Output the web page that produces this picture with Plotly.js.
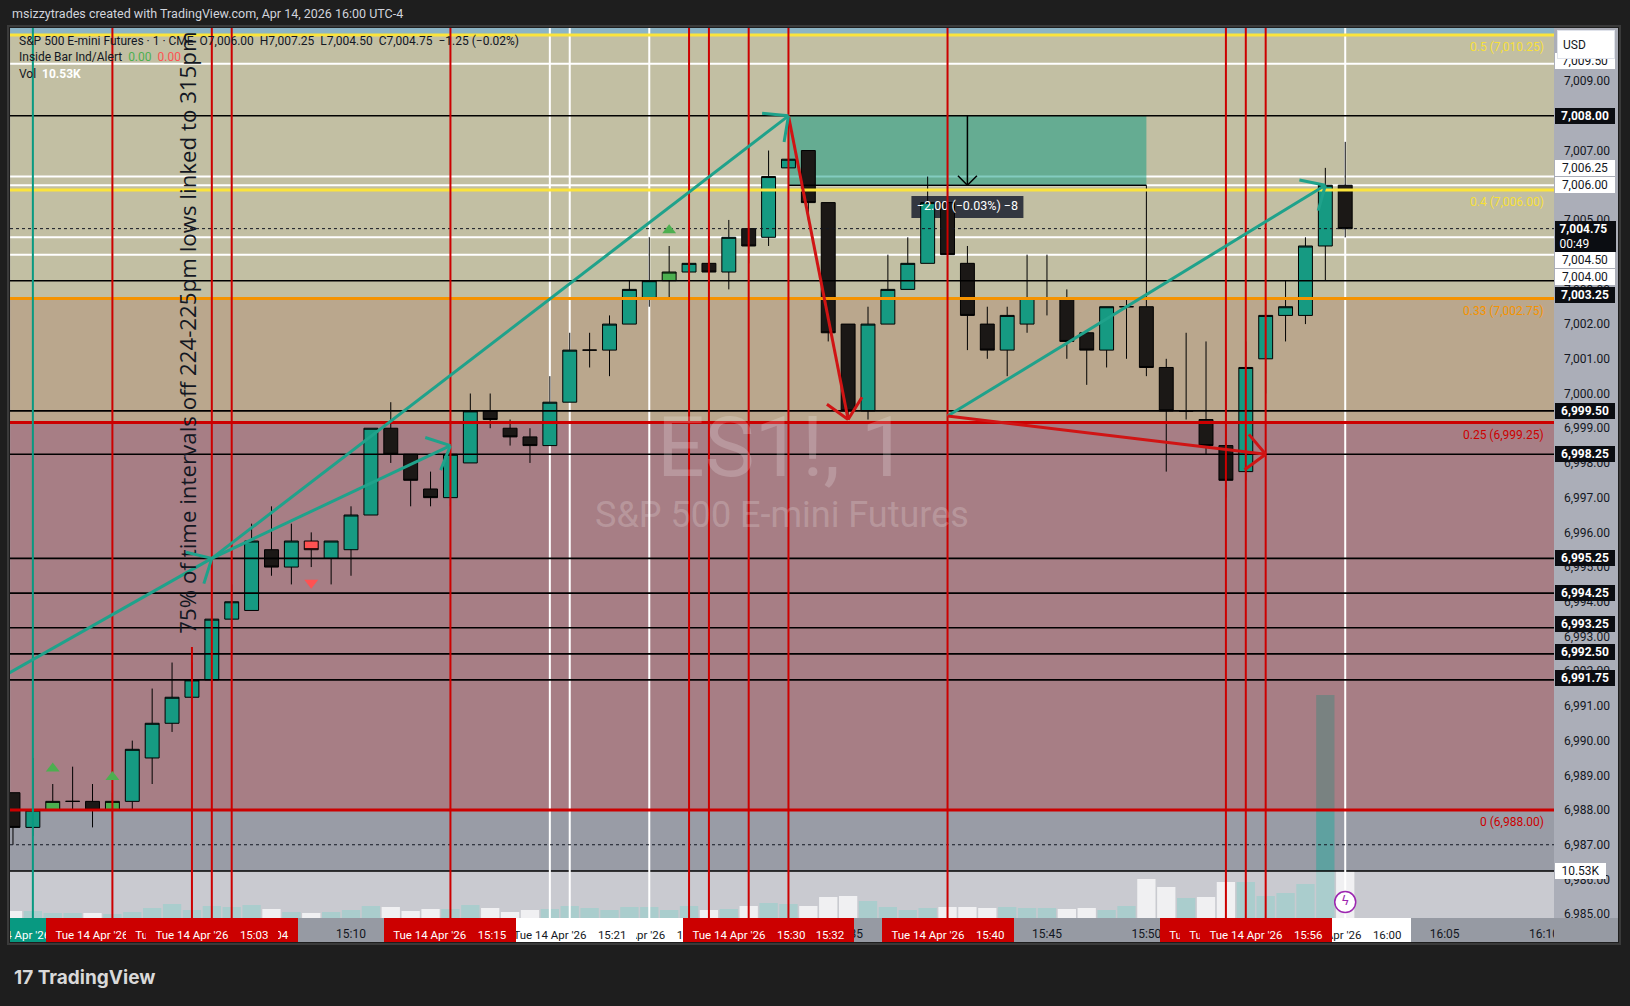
<!DOCTYPE html>
<html><head><meta charset="utf-8">
<script src="https://cdn.plot.ly/plotly-3.0.1.min.js"></script>
<style>html,body{margin:0;padding:0;background:#1e1e1e;overflow:hidden}#chart{width:1630px;height:1006px}</style>
</head><body><div id="chart"></div><script>
// ---------------- DATA ----------------
const day = '2026-04-14 ';
const times = ['14:53','14:54','14:55','14:56','14:57','14:58','14:59','15:00','15:01','15:02','15:03','15:04','15:05','15:06','15:07','15:08','15:09','15:10','15:11','15:12','15:13','15:14','15:15','15:16','15:17','15:18','15:19','15:20','15:21','15:22','15:23','15:24','15:25','15:26','15:27','15:28','15:29','15:30','15:31','15:32','15:33','15:34','15:35','15:36','15:37','15:38','15:39','15:40','15:41','15:42','15:43','15:44','15:45','15:46','15:47','15:48','15:49','15:50','15:51','15:52','15:53','15:54','15:55','15:56','15:57','15:58','15:59','16:00'];
const open = [6988.5,6987.5,6988.0,6988.25,6988.25,6988.0,6988.25,6989.5,6990.5,6991.25,
  6991.75,6993.5,6993.75,6995.5,6995.0,6995.75,6995.25,6995.5,6996.5,6999.0,
  6998.25,6997.25,6997.0,6998.0,6999.5,6999.0,6998.75,6998.5,6999.75,7001.25,
  7001.25,7002.0,7002.75,7003.25,7003.5,7003.75,7003.5,7004.75,7004.5,7006.5,
  7007.0,7005.5,7002.0,6999.5,7002.0,7003.0,7003.75,7005.5,7003.75,7002.0,
  7001.25,7002.0,7002.75,7002.75,7001.75,7001.25,7002.5,7002.5,7000.75,6999.5,
  6999.25,6998.5,6997.75,7001.0,7002.25,7002.25,7004.25,7006.0];
const high = [6988.5,6989.5,6988.75,6989.25,6988.75,6988.5,6990.0,6991.5,6992.25,6992.25,
  6993.75,6994.5,6996.25,6996.75,6996.25,6996.0,6995.75,6996.75,6999.0,6999.75,
  6998.25,6997.75,6998.5,7000.0,7000.0,6999.25,6999.0,7000.5,7001.75,7001.75,
  7002.25,7003.25,7004.5,7004.25,7004.25,7004.25,7005.0,7005.0,7007.0,7008.0,
  7007.0,7005.5,7002.0,7002.5,7004.0,7004.5,7006.25,7006.0,7004.25,7002.5,
  7002.5,7004.0,7004.0,7003.0,7001.75,7002.5,7002.75,7006.0,7001.0,7001.75,
  7001.5,7001.25,7001.5,7002.75,7003.25,7004.5,7006.5,7007.25];
const low = [6987.0,6987.25,6988.0,6988.0,6987.5,6987.75,6988.0,6988.75,6990.25,6991.25,
  6991.75,6992.5,6993.75,6994.75,6994.5,6995.0,6994.5,6994.75,6996.5,6998.0,
  6996.75,6996.75,6996.75,6998.0,6999.0,6998.5,6998.0,6998.5,6999.75,7000.75,
  7000.5,7002.0,7002.5,7002.75,7003.0,7003.0,7003.0,7003.75,7004.25,7006.5,
  7005.0,7001.5,6999.25,6999.25,7002.0,7003.0,7003.75,7003.25,7001.25,7001.0,
  7000.5,7001.75,7002.25,7001.0,7000.25,7000.75,7001.0,7000.5,6997.75,6999.25,
  6998.25,6997.0,6997.5,7000.0,7001.5,7002.0,7003.25,7004.5];
const close = [6987.5,6988.0,6988.25,6988.25,6988.0,6988.25,6989.75,6990.5,6991.25,6991.75,
  6993.5,6994.0,6995.75,6995.0,6995.75,6995.5,6995.75,6996.5,6999.0,6998.25,
  6997.5,6997.0,6998.25,6999.5,6999.25,6998.75,6998.5,6999.75,7001.25,7001.25,
  7002.0,7003.0,7003.25,7003.5,7003.75,7003.5,7004.5,7004.25,7006.25,7006.75,
  7005.5,7001.75,6999.5,7002.0,7003.0,7003.75,7005.5,7004.0,7002.25,7001.25,
  7002.25,7002.75,7002.75,7001.5,7001.25,7002.5,7002.5,7000.75,6999.5,6999.5,
  6998.5,6997.5,7000.75,7002.25,7002.5,7004.25,7006.0,7004.75];
const volumeK = [1.57,1.57,1.12,1.12,1.12,0.90,1.34,2.24,3.14,1.79,
  2.69,2.46,2.91,2.02,1.34,1.12,1.34,1.79,2.69,2.46,
  1.57,2.02,2.02,2.91,2.24,1.34,1.79,2.02,2.69,2.24,
  1.79,2.46,2.46,1.79,2.69,1.79,2.02,2.69,3.36,3.14,
  2.69,4.70,4.93,3.81,2.46,1.79,2.24,2.46,2.46,2.24,
  2.46,2.24,2.24,2.02,2.24,1.79,2.69,8.74,6.95,4.48,
  4.70,8.07,8.07,4.93,5.60,7.62,49.97,10.53];
const insideUpTimes = ['14:55','14:58','15:26'];
const insideDownTimes = ['15:08'];
const tickTimes = ['14:55','15:00','15:05','15:10','15:15','15:20','15:25','15:30','15:35','15:40','15:45','15:50','15:55','16:00','16:05','16:10'];

const fibBase = 6988.0, fibRange = 44.65;
const fibRatios = [0, 0.25, 0.33, 0.4, 0.5];
const fibLabels = ['0 (6,988.00)','0.25 (6,999.25)','0.33 (7,002.75)','0.4 (7,006.00)','0.5 (7,010.25)'];

const blackLevels = [7008.00, 7003.25, 6999.50, 6998.25, 6995.25, 6994.25, 6993.25, 6992.50, 6991.75];
const whiteLevels = [7009.50, 7006.25, 7006.00, 7004.50, 7004.00];
const dottedLevels = [7004.75, 6987.00];

const redTimes = ['14:58','15:03','15:04','15:15','15:27','15:28','15:30','15:32','15:40','15:54','15:55','15:56'];
const redPartial = {t:'15:02', top:6992.7};
const whiteTimes = ['15:20','15:21','15:25','16:00'];
const tealTimes = ['14:54'];

const arrows = [
  {from:['14:52:30',6991.85], to:['15:03',6995.25], c:'teal'},
  {from:['15:03',6995.25], to:['15:32',7008.0], c:'teal'},
  {from:['15:03',6995.25], to:['15:15',6998.5], c:'teal'},
  {from:['15:40',6999.35], to:['15:59',7006.0], c:'teal'},
  {from:['15:32',7008.0], to:['15:35',6999.25], c:'red'},
  {from:['15:40',6999.35], to:['15:56',6998.25], c:'red'}
];
const measure = {t0:'15:32', t1:'15:50', top:7008.0, bottom:7006.0, mid:'15:41', labelPrice:7005.37};

const timeTags = [['14:54','teal'],['14:58','red'],['15:04','red'],['15:02','red'],['15:03','red'],
  ['15:27','red'],['15:28','red'],['15:25','white'],['15:20','white'],['15:21','white'],['15:15','red'],
  ['15:32','red'],['15:30','red'],['15:40','red'],['16:00','white'],['15:54','red'],['15:55','red'],['15:56','red']];

// ---------------- STYLE / GEOMETRY ----------------
const F = "Roboto, 'Liberation Sans', Arial, sans-serif";
const W = 1630, H = 1006;
const M = {l:10, r:76, t:28, b:88};
const plotW = W - M.l - M.r, plotH = H - M.t - M.b;
const xRangeT = ['14:52:51','16:10:30'];
const yRange = [6984.89, 7010.53];
const volRange = [0, 199.4];
const T = s => day + (s.length === 5 ? s + ':00' : s);
const minutesOf = s => { const p = s.split(':').map(Number); return p[0]*60 + p[1] + (p[2]||0)/60; };
const toT = m => { const s = Math.round(m*60); const h=Math.floor(s/3600), mm=Math.floor((s%3600)/60), ss=s%60;
  return day+String(h).padStart(2,'0')+':'+String(mm).padStart(2,'0')+':'+String(ss).padStart(2,'0'); };
const pxPerMin = plotW / (minutesOf(xRangeT[1]) - minutesOf(xRangeT[0]));
const pxPerPt = plotH / (yRange[1] - yRange[0]);
const X0 = T(xRangeT[0]), X1 = T(xRangeT[1]);
const XMID = toT((minutesOf(xRangeT[0]) + minutesOf(xRangeT[1]))/2);
const SPAN_MS = (minutesOf(xRangeT[1]) - minutesOf(xRangeT[0]))*60000;
const pyPaper = py => (H - M.b - py) / plotH;
const C = {teal:'#1fa28b', red:'#d01414', candleUp:'#169a82', candleDn:'#1b1816',
  volUp:'rgba(38,166,154,0.5)', volDn:'#e2e3e6', bg:'#999ca6'};
const fibColors = ['#cc0000','#cc0000','#f59300','#fbe43c','#fbe43c'];
const fibPrices = fibRatios.map(r => fibBase + r*fibRange);
const zoneColors = ['rgba(227,11,6,0.2)','#baa78d','#c2bfa3','#c2bfa3'];

const traces = [];
const idx = t => times.indexOf(t);
const lastI = times.length - 1;
const lastVol = volumeK[lastI];

// volume (subplot xy, lowest)
traces.push({type:'bar', x:times.map(T), y:volumeK, xaxis:'x', yaxis:'y', width:0.92*60000,
  marker:{color:times.map((_,i)=> close[i]>=open[i] ? C.volUp : C.volDn), line:{width:0}}, hoverinfo:'skip'});
traces.push({type:'scatter', mode:'lines', x:[X0,X1,X1,X0,X0], y:[0,0,lastVol,lastVol,0], fill:'toself',
  fillcolor:'rgba(255,255,255,0.47)', line:{width:0}, xaxis:'x', yaxis:'y', hoverinfo:'skip'});
traces.push({type:'scatter', mode:'lines', x:[X0,X1], y:[lastVol,lastVol], line:{color:'#000',width:1.5}, xaxis:'x', yaxis:'y', hoverinfo:'skip'});

// ---- price subplot: bar-layer items (below candles) ----
function rectBars(items){
  return {type:'bar', x:items.map(r=>r.xc), base:items.map(r=>r.y0), y:items.map(r=>r.y1-r.y0), width:items.map(r=>r.wMs),
    marker:{color:items.map(r=>r.color), line:{width:0}}, xaxis:'x', yaxis:'y2', hoverinfo:'skip'};
}
const zoneItems = [];
for(let i=0;i<zoneColors.length;i++) zoneItems.push({xc:XMID,wMs:SPAN_MS,y0:fibPrices[i],y1:fibPrices[i+1],color:zoneColors[i]});
zoneItems.push({xc:XMID,wMs:SPAN_MS,y0:fibPrices[4],y1:yRange[1],color:'#8cb4c5'});
traces.push(rectBars(zoneItems));
const hPt = 2/pxPerPt, wMs = 2/pxPerMin*60000;
traces.push(rectBars(whiteLevels.map(v=>({xc:XMID,wMs:SPAN_MS,y0:v-hPt/2,y1:v+hPt/2,color:'#ffffff'}))));
traces.push(rectBars(whiteTimes.map(t=>({xc:T(t),wMs:wMs,y0:yRange[0],y1:yRange[1],color:'#ffffff'}))));
const mMid = (minutesOf(measure.t0)+minutesOf(measure.t1))/2;
const lblW = 112/pxPerMin, lblH = 22/pxPerPt;
traces.push(rectBars([
  {xc:toT(mMid), wMs:(minutesOf(measure.t1)-minutesOf(measure.t0))*60000, y0:measure.bottom, y1:measure.top, color:'rgba(8,153,129,0.5)'},
  {xc:T(measure.mid), wMs:lblW*60000, y0:measure.labelPrice-lblH/2, y1:measure.labelPrice+lblH/2, color:'rgba(40,44,56,0.93)'}
]));

// candles (box layer)
const isInside = times.map(t => insideUpTimes.includes(t) || insideDownTimes.includes(t));
function candle(ids, up, dn){
  return {type:'candlestick', x:ids.map(i=>T(times[i])), open:ids.map(i=>open[i]), high:ids.map(i=>high[i]), low:ids.map(i=>low[i]), close:ids.map(i=>close[i]),
    increasing:{fillcolor:up, line:{color:'#000',width:1}}, decreasing:{fillcolor:dn, line:{color:'#000',width:1}},
    whiskerwidth:0, xaxis:'x', yaxis:'y2', hoverinfo:'skip'};
}
traces.push(candle(times.map((_,i)=>i).filter(i=>!isInside[i]), C.candleUp, C.candleDn));
traces.push(candle(times.map((_,i)=>i).filter(i=>isInside[i]), '#4caf50', '#ff5252'));

// ---- scatter layer (above candles) ----
function hl(levels,color,width,dash){ const x=[],y=[]; levels.forEach(v=>{x.push(X0,X1,null);y.push(v,v,null);}); return {type:'scatter',mode:'lines',x,y,line:{color,width,dash:dash||'solid'},xaxis:'x',yaxis:'y2',hoverinfo:'skip'}; }
function vl(ts,color,width,bot,top){ const x=[],y=[]; ts.forEach(t=>{x.push(T(t),T(t),null);y.push(bot,top,null);}); return {type:'scatter',mode:'lines',x,y,line:{color,width},xaxis:'x',yaxis:'y2',hoverinfo:'skip'}; }
(function(){
  const d = measure.bottom - measure.top;
  const txt = '\u2212' + Math.abs(d).toFixed(2) + ' (\u2212' + Math.abs(d/measure.top*100).toFixed(2) + '%) \u2212' + Math.abs(d/0.25);
  traces.push({type:'scatter',mode:'text',x:[T(measure.mid)],y:[measure.labelPrice],text:[txt],textposition:'middle center',textfont:{family:F,size:12.5,color:'#ffffff'},xaxis:'x',yaxis:'y2',hoverinfo:'skip'});
})();
fibPrices.forEach((p,i)=> traces.push(hl([p], fibColors[i], 3)));
traces.push(hl(blackLevels,'#000000',1.6));
traces.push(hl(dottedLevels,'#131722',1,'dot'));
traces.push({type:'scatter',mode:'lines',x:[T(measure.t0),T(measure.t1)],y:[measure.bottom,measure.bottom],line:{color:'#000',width:1.5},xaxis:'x',yaxis:'y2',hoverinfo:'skip'});
traces.push(vl(redTimes,'#cc0000',2,yRange[0],yRange[1]));
traces.push(vl([redPartial.t],'#cc0000',2,yRange[0],redPartial.top));
traces.push(vl(tealTimes,'#089981',2,yRange[0],yRange[1]));
traces.push({type:'scatter',mode:'lines',x:[T(measure.mid),T(measure.mid)],y:[measure.top,measure.bottom],line:{color:'#000',width:1.5},xaxis:'x',yaxis:'y2',hoverinfo:'skip'});
const mOff = 0.45;
traces.push({type:'scatter',mode:'markers',x:insideUpTimes.map(T),y:insideUpTimes.map(t=>high[idx(t)]+mOff),marker:{symbol:'triangle-up',size:12,color:'#4caf50'},xaxis:'x',yaxis:'y2',hoverinfo:'skip'});
traces.push({type:'scatter',mode:'markers',x:insideDownTimes.map(T),y:insideDownTimes.map(t=>low[idx(t)]-mOff),marker:{symbol:'triangle-down',size:12,color:'#ff5252'},xaxis:'x',yaxis:'y2',hoverinfo:'skip'});
arrows.forEach(a => traces.push({type:'scatter',mode:'lines',x:[T(a.from[0]),T(a.to[0])],y:[a.from[1],a.to[1]],
  line:{color:C[a.c],width:3},xaxis:'x',yaxis:'y2',hoverinfo:'skip'}));
traces.push({type:'scatter',mode:'markers+text',x:[T(times[lastI])],y:[6985.35],text:['\u03DF'],textposition:'middle center',
  textfont:{family:'DejaVu Sans',size:13,color:'#9c27b0'},marker:{symbol:'circle',size:21,color:'#ffffff',line:{color:'#9c27b0',width:1.5}},xaxis:'x',yaxis:'y2',hoverinfo:'skip'});

// ---------------- ANNOTATIONS ----------------
const ann = [];
const fmt = v => v.toLocaleString('en-US',{minimumFractionDigits:2,maximumFractionDigits:2});
ann.push({xref:'paper',yref:'paper',x:0,y:pyPaper(13),xanchor:'left',yanchor:'middle',showarrow:false,
  text:'msizzytrades created with TradingView.com, Apr 14, 2026 16:00 UTC-4',font:{family:F,size:12.5,color:'#d1d4dc'}});
const chg = close[lastI]-close[lastI-1];
const chgTxt = (chg<0?'\u2212':'+') + Math.abs(chg).toFixed(2) + ' (' + (chg<0?'\u2212':'+') + Math.abs(chg/close[lastI-1]*100).toFixed(2) + '%)';
ann.push({xref:'paper',yref:'paper',x:0,xshift:7,y:pyPaper(41),xanchor:'left',yanchor:'middle',showarrow:false,font:{family:F,size:12,color:'#131722'},
  text:'S&P 500 E-mini Futures \u00b7 1 \u00b7 CME\u00a0\u00a0O'+fmt(open[lastI])+'\u00a0\u00a0H'+fmt(high[lastI])+'\u00a0\u00a0L'+fmt(low[lastI])+'\u00a0\u00a0C'+fmt(close[lastI])+'\u00a0\u00a0'+chgTxt});
ann.push({xref:'paper',yref:'paper',x:0,xshift:7,y:pyPaper(57),xanchor:'left',yanchor:'middle',showarrow:false,font:{family:F,size:12,color:'#131722'},
  text:'Inside Bar Ind/Alert\u00a0\u00a0<span style="color:#4caf50">0.00</span>\u00a0\u00a0<span style="color:#ff5252">0.00</span>'});
ann.push({xref:'paper',yref:'paper',x:0,xshift:7,y:pyPaper(74),xanchor:'left',yanchor:'middle',showarrow:false,font:{family:F,size:12,color:'#131722'},
  text:'Vol\u00a0\u00a0<b><span style="color:#ffffff">'+lastVol.toFixed(2)+'K</span></b>'});
ann.push({xref:'paper',yref:'paper',x:0.5,y:pyPaper(447),xanchor:'center',yanchor:'middle',showarrow:false,text:'ES1!, 1',font:{family:F,size:84,color:'rgba(255,255,255,0.2)'}});
ann.push({xref:'paper',yref:'paper',x:0.5,y:pyPaper(515),xanchor:'center',yanchor:'middle',showarrow:false,text:'S&P 500 E-mini Futures',font:{family:F,size:36,color:'rgba(255,255,255,0.2)'}});
ann.push({xref:'x',yref:'y2',x:T('15:01:48'),y:7001.75,textangle:-90,showarrow:false,xanchor:'center',yanchor:'middle',
  text:'75% of time intervals off 224-225pm lows linked to 315pm',font:{family:"'Open Sans','Noto Sans',sans-serif",size:22.3,color:'#131722'}});
fibPrices.forEach((p,i)=> ann.push({xref:'paper',yref:'y2',x:1,xshift:-8,y:p,yshift:-3,xanchor:'right',yanchor:'top',showarrow:false,
  text:fibLabels[i],font:{family:F,size:12,color:fibColors[i]==='#fbe43c'?'#f7e03a':fibColors[i]}}));
function armsFor(a){
  const dx=(minutesOf(a.to[0])-minutesOf(a.from[0]))*pxPerMin, dy=-(a.to[1]-a.from[1])*pxPerPt;
  const len=Math.hypot(dx,dy), bx=-dx/len, by=-dy/len, ang=43*Math.PI/180;
  return [ang,-ang].map(s=>[28*(bx*Math.cos(s)-by*Math.sin(s)), 28*(bx*Math.sin(s)+by*Math.cos(s))]);
}
arrows.forEach(a => armsFor(a).forEach(([ax,ay]) => ann.push({xref:'x',yref:'y2',x:T(a.to[0]),y:a.to[1],ax,ay,axref:'pixel',ayref:'pixel',
  showarrow:true,arrowhead:0,arrowwidth:3,arrowcolor:C[a.c],text:'',font:{size:1},standoff:0})));
[[-11,-11],[11,-11]].forEach(([ax,ay]) => ann.push({xref:'x',yref:'y2',x:T(measure.mid),y:measure.bottom,ax,ay,axref:'pixel',ayref:'pixel',
  showarrow:true,arrowhead:0,arrowwidth:1.5,arrowcolor:'#000',text:'',font:{size:1},standoff:0}));

// price-axis tags
const tagShift = {'7009.50':3,'7006.25':8.6,'7004.50':-23,'7004.00':-22,'7003.25':-14,'6993.25':4,'6992.50':2,'6991.75':2};
function ptag(p, dark){
  return {xref:'paper',yref:'y2',x:1,xshift:1,xanchor:'left',y:p,yshift:tagShift[p.toFixed(2)]||0,yanchor:'middle',showarrow:false,
    width:58,height:14,borderpad:1,borderwidth:0,bgcolor:dark?'#0b0d12':'#ffffff',
    text:dark?'<b>'+fmt(p)+'</b>':fmt(p),font:{family:F,size:12,color:dark?'#ffffff':'#131722'}};
}
whiteLevels.forEach(p=>ann.push(ptag(p,false)));
blackLevels.forEach(p=>ann.push(ptag(p,true)));
ann.push({xref:'paper',yref:'y2',x:1,xshift:1,xanchor:'left',y:close[lastI],yshift:7.6,yanchor:'top',showarrow:false,width:58,height:28,borderpad:1.5,borderwidth:0,
  bgcolor:'#0b0d12',align:'left',text:'\u00a0<b>'+fmt(close[lastI])+'</b><br>\u00a000:49',font:{family:F,size:12,color:'#ffffff'}});
ann.push({xref:'paper',yref:'y',x:1,xshift:1,xanchor:'left',y:lastVol,yanchor:'middle',showarrow:false,width:49,height:14,borderpad:1,borderwidth:0,
  bgcolor:'#ffffff',text:lastVol.toFixed(2)+'K',font:{family:F,size:12,color:'#131722'}});
ann.push({xref:'paper',yref:'paper',x:1,xshift:3,xanchor:'left',y:1,yshift:-2,yanchor:'top',showarrow:false,width:52,height:23,borderpad:2,borderwidth:1,
  bordercolor:'#e0e3eb',bgcolor:'#ffffff',align:'left',text:'\u00a0USD',font:{family:F,size:12,color:'#131722'}});

// time-axis tags
const tagBg = {teal:'#089981', red:'#cc0000', white:'#ffffff'};
const tagW = 132;
timeTags.forEach(([t,k]) => {
  const txt = "Tue 14 Apr '26\u00a0\u00a0\u00a0\u00a0" + t;
  const left = (minutesOf(t)-minutesOf(xRangeT[0]))*pxPerMin - tagW/2;
  const base = {xref:'x',yref:'paper',y:0,yanchor:'top',showarrow:false,height:24,borderpad:0,borderwidth:0,bgcolor:tagBg[k],valign:'bottom',
    font:{family:F,size:11.5,color:k==='white'?'#131722':'#ffffff'}};
  if(left < 0) ann.push(Object.assign(base,{x:X0,xanchor:'left',width:tagW+left,align:'right',text:txt+'\u00a0\u00a0\u00a0'}));
  else ann.push(Object.assign(base,{x:T(t),xanchor:'center',width:tagW,text:txt}));
});
ann.push({xref:'paper',yref:'paper',x:1,xanchor:'left',y:0,yanchor:'top',showarrow:false,width:64,height:24,borderpad:0,borderwidth:0,bgcolor:'#969aa3',text:''});
ann.push({xref:'paper',yref:'paper',x:0,xshift:2,y:pyPaper(977),xanchor:'left',yanchor:'middle',showarrow:false,
  text:'<b>17\u00a0TradingView</b>',font:{family:"Inter, Roboto, sans-serif",size:19,color:'#d9d9d9'}});

// ---------------- LAYOUT ----------------
const shapes = [
  {type:'rect',xref:'paper',yref:'paper',x0:1,x1:(1618-M.l)/plotW,y0:0,y1:1,fillcolor:'#abaeb8',line:{width:0},layer:'below'},
  {type:'rect',xref:'paper',yref:'paper',x0:0,x1:(1618-M.l)/plotW,y0:pyPaper(942),y1:0,fillcolor:'#969aa3',line:{width:0},layer:'below'},
  {type:'rect',xref:'paper',yref:'paper',x0:-2/plotW,x1:(1620-M.l)/plotW,y0:pyPaper(944),y1:pyPaper(26),fillcolor:'rgba(0,0,0,0)',line:{color:'#3a3a3a',width:2},layer:'below'}
];
const layout = {
  width:W, height:H, margin:{l:M.l,r:M.r,t:M.t,b:M.b,pad:0},
  paper_bgcolor:'#1e1e1e', plot_bgcolor:C.bg, showlegend:false, hovermode:false,
  barmode:'overlay', boxgap:0.3, boxgroupgap:0,
  xaxis:{type:'date',range:[X0,X1],autorange:false,rangeslider:{visible:false},showgrid:false,zeroline:false,showline:false,
    tickmode:'array',tickvals:tickTimes.map(T),ticktext:tickTimes,ticks:'',tickfont:{family:F,size:12,color:'#131722'},ticklabelstandoff:7,fixedrange:true},
  yaxis:{range:volRange,autorange:false,visible:false,fixedrange:true},
  yaxis2:{range:yRange,autorange:false,overlaying:'y',side:'right',anchor:'x',showgrid:false,zeroline:false,showline:false,
    tickmode:'linear',tick0:0,dtick:1,tickformat:',.2f',ticks:'',ticklabelstandoff:9,tickfont:{family:F,size:12,color:'#131722'},fixedrange:true},
  shapes, annotations:ann
};
Plotly.newPlot('chart', traces, layout, {displayModeBar:false, staticPlot:true});
</script></body></html>
